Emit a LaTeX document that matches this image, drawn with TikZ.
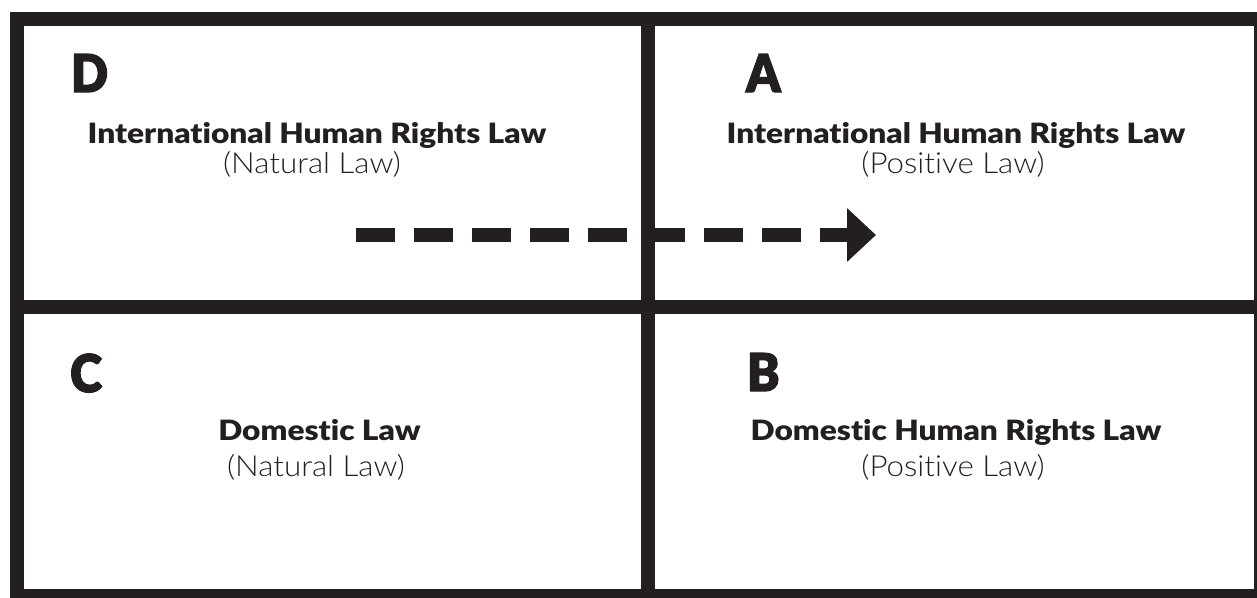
\documentclass[tikz,border=0pt]{standalone}
\usepackage{fontspec}
\setmainfont{Lato}
\newfontfamily\headfont{Lato Black}[Ligatures=NoCommon, FakeStretch=1.13]
\newfontfamily\letterfont{Lato Black}[Ligatures=NoCommon, FakeBold=2.5, FakeStretch=0.93]
\newfontfamily\subfont{Lato Light}[Ligatures=NoCommon, FakeStretch=1.08]
\usetikzlibrary{arrows.meta}
\definecolor{ink}{RGB}{35,31,32}
\tikzset{
  frame/.style={draw=ink, line width=14.5pt},
  divider/.style={draw=ink, line width=14pt},
  letter/.style={anchor=base west, inner sep=0pt, text=ink, font=\letterfont\fontsize{52}{54}\selectfont},
  heading/.style={anchor=base, inner sep=0pt, text=ink, font=\headfont\fontsize{28}{30}\selectfont},
  sub/.style={anchor=base, inner sep=0pt, text=ink, font=\subfont\fontsize{29}{31}\selectfont},
  flow/.style={draw=ink, line width=14pt, dash pattern=on 38.5pt off 19.5pt,
    -{Triangle[length=29pt,width=52pt]}},
}
\begin{document}
\begin{tikzpicture}[x=1pt,y=-1pt]
\useasboundingbox (0,0) rectangle (1257,597);
% dashed arrow (drawn beneath the grid)
\coordinate (s) at (356,235);
\coordinate (e) at (876,235);
\draw[flow] (s) -- (e);
% frame and dividers
\draw[frame] (16.75,18.75) rectangle (1261,596);
\draw[divider] (647.5,18.75) -- (647.5,596);
\draw[divider] (16.75,307) -- (1261,307);
% quadrant D
\node[letter] (ld) at (71,92) {D};
\node[heading] (hd) at (317,143) {International Human Rights Law};
\node[sub] (sd) at (312,173) {(Natural Law)};
% quadrant A
\node[letter] (la) at (746,92) {A};
\node[heading] (ha) at (956,143) {International Human Rights Law};
\node[sub] (sa) at (953,173) {(Positive Law)};
% quadrant C
\node[letter] (lc) at (70,392) {C};
\node[heading] (hc) at (319.5,440) {Domestic Law};
\node[sub] (sc) at (316,476) {(Natural Law)};
% quadrant B
\node[letter] (lb) at (747,391) {B};
\node[heading] (hb) at (956,440) {Domestic Human Rights Law};
\node[sub] (sb) at (953,476) {(Positive Law)};
\end{tikzpicture}
\end{document}
